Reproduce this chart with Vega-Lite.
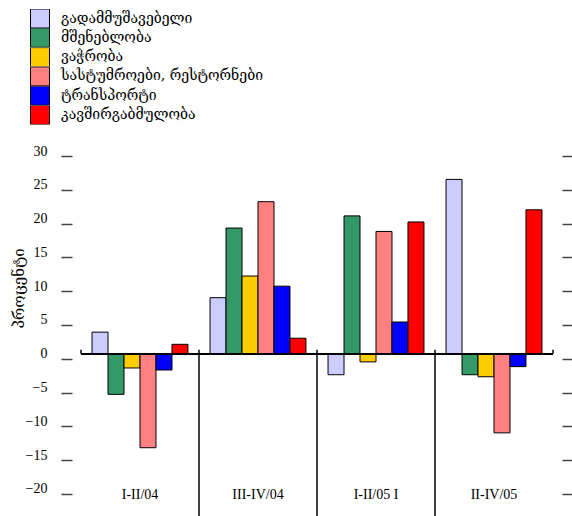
{
  "$schema": "https://vega.github.io/schema/vega-lite/v6.json",
  "width": 472,
  "height": 365,
  "autosize": {"type": "none"},
  "padding": {"left": 81, "top": 151, "right": 19, "bottom": 0},
  "background": "white",
  "config": {"view": {"stroke": null}},
  "data": {"values": [
    {"cat": "I-II/04", "sector": "გადამმუშავებელი", "value": 3.2},
    {"cat": "I-II/04", "sector": "მშენებლობა", "value": -6.0},
    {"cat": "I-II/04", "sector": "ვაჭრობა", "value": -2.1},
    {"cat": "I-II/04", "sector": "სასტუმროები, რესტორნები", "value": -13.9},
    {"cat": "I-II/04", "sector": "ტრანსპორტი", "value": -2.4},
    {"cat": "I-II/04", "sector": "კავშირგაბმულობა", "value": 1.4},
    {"cat": "III-IV/04", "sector": "გადამმუშავებელი", "value": 8.3},
    {"cat": "III-IV/04", "sector": "მშენებლობა", "value": 18.6},
    {"cat": "III-IV/04", "sector": "ვაჭრობა", "value": 11.5},
    {"cat": "III-IV/04", "sector": "სასტუმროები, რესტორნები", "value": 22.5},
    {"cat": "III-IV/04", "sector": "ტრანსპორტი", "value": 10.0},
    {"cat": "III-IV/04", "sector": "კავშირგაბმულობა", "value": 2.3},
    {"cat": "I-II/05 I", "sector": "გადამმუშავებელი", "value": -3.1},
    {"cat": "I-II/05 I", "sector": "მშენებლობა", "value": 20.4},
    {"cat": "I-II/05 I", "sector": "ვაჭრობა", "value": -1.2},
    {"cat": "I-II/05 I", "sector": "სასტუმროები, რესტორნები", "value": 18.1},
    {"cat": "I-II/05 I", "sector": "ტრანსპორტი", "value": 4.7},
    {"cat": "I-II/05 I", "sector": "კავშირგაბმულობა", "value": 19.5},
    {"cat": "II-IV/05", "sector": "გადამმუშავებელი", "value": 25.8},
    {"cat": "II-IV/05", "sector": "მშენებლობა", "value": -3.1},
    {"cat": "II-IV/05", "sector": "ვაჭრობა", "value": -3.4},
    {"cat": "II-IV/05", "sector": "სასტუმროები, რესტორნები", "value": -11.7},
    {"cat": "II-IV/05", "sector": "ტრანსპორტი", "value": -1.9},
    {"cat": "II-IV/05", "sector": "კავშირგაბმულობა", "value": 21.3}
  ]},
  "resolve": {"axis": {"y": "independent"}},
  "layer": [
    {
      "mark": {"type": "bar", "stroke": "black", "strokeWidth": 1},
      "encoding": {
        "x": {"field": "cat", "type": "nominal", "sort": null,
          "scale": {"paddingInner": 0, "paddingOuter": 0},
          "axis": {"title": null, "orient": "bottom", "domain": false, "ticks": false, "labelAngle": 0,
            "labelPadding": -22, "labelBaseline": "middle", "labelFont": "Liberation Serif", "labelFontSize": 14, "labelColor": "black"}},
        "xOffset": {"field": "sector", "type": "nominal", "sort": null,
          "scale": {"paddingInner": 0, "paddingOuter": 0.69}},
        "y": {"field": "value", "type": "quantitative",
          "scale": {"domain": [-24, 30], "nice": false, "zero": false},
          "axis": {"orient": "left", "values": [-20, -15, -10, -5, 0, 5, 10, 15, 20, 25, 30], "grid": false, "domain": false,
            "offset": 9, "tickSize": 11, "tickColor": "#444", "tickWidth": 1.5, "tickOffset": 5, "labelOffset": -5,
            "labelPadding": 14, "labelFont": "Liberation Serif", "labelFontSize": 14, "labelColor": "black",
            "title": "პროცენტი", "titleFont": "DejaVu Serif", "titleFontSize": 15, "titleFontWeight": "normal", "titleColor": "black",
            "titleX": -54, "titleY": 137, "titleBaseline": "middle"}},
        "color": {"field": "sector", "type": "nominal", "sort": null,
          "scale": {"range": ["#CCCCFF", "#339966", "#FFCC00", "#FF8080", "#0000FF", "#FF0000"]},
          "legend": {"title": null, "orient": "none", "legendX": -51, "legendY": -142, "symbolType": "square",
            "symbolSize": 361, "symbolStrokeColor": "black", "symbolStrokeWidth": 1, "symbolOpacity": 1,
            "clipHeight": 19, "rowPadding": 0.3, "labelOffset": 11, "labelFont": "DejaVu Serif", "labelFontSize": 14, "labelColor": "black", "labelLimit": 400}}
      }
    },
    {
      "mark": {"type": "rule", "color": "black", "strokeWidth": 1.5},
      "encoding": {
        "y": {"datum": 0, "type": "quantitative",
          "axis": {"orient": "right", "values": [-20, -15, -10, -5, 0, 5, 10, 15, 20, 25, 30], "labels": false, "grid": false, "domain": false,
            "offset": 9, "tickSize": 10, "tickColor": "#444", "tickWidth": 1.5, "tickOffset": 5, "title": null}}
      }
    },
    {
      "transform": [{"filter": "datum.cat !== 'I-II/04' && datum.sector === 'გადამმუშავებელი'"}],
      "mark": {"type": "rule", "color": "black", "strokeWidth": 1.5},
      "encoding": {
        "x": {"field": "cat", "type": "nominal", "sort": null, "bandPosition": 0},
        "y": {"datum": 0.6, "type": "quantitative", "axis": null},
        "y2": {"datum": -24}
      }
    },
    {
      "transform": [{"filter": "datum.cat === 'I-II/04' && datum.sector === 'გადამმუშავებელი'"}],
      "mark": {"type": "rule", "color": "black", "strokeWidth": 1.5},
      "encoding": {
        "x": {"field": "cat", "type": "nominal", "sort": null, "bandPosition": 0},
        "y": {"datum": 0.6, "type": "quantitative", "axis": null},
        "y2": {"datum": 0}
      }
    },
    {
      "transform": [{"filter": "datum.cat === 'II-IV/05' && datum.sector === 'გადამმუშავებელი'"}],
      "mark": {"type": "rule", "color": "black", "strokeWidth": 1.5},
      "encoding": {
        "x": {"field": "cat", "type": "nominal", "sort": null, "bandPosition": 1},
        "y": {"datum": 0.6, "type": "quantitative", "axis": null},
        "y2": {"datum": 0}
      }
    }
  ]
}
